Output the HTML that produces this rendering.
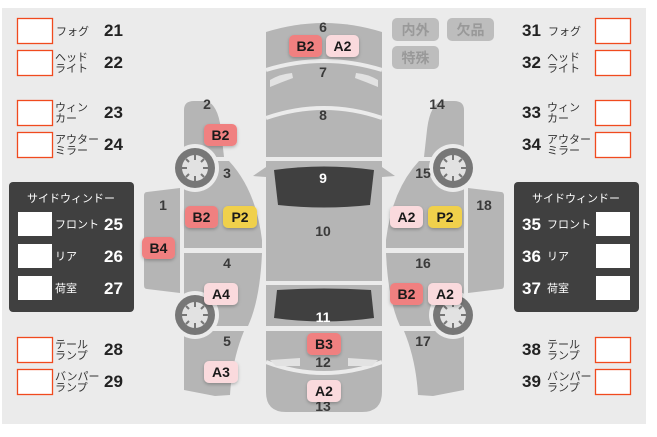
<!DOCTYPE html>
<html><head><meta charset="utf-8"><style>
body{margin:0;background:#fff;width:657px;height:432px;overflow:hidden;font-family:"Liberation Sans","Noto Sans CJK JP",sans-serif}
</style></head><body>
<svg width="657" height="432" viewBox="0 0 657 432" xmlns="http://www.w3.org/2000/svg" font-family="Liberation Sans, Noto Sans CJK JP, sans-serif">
<defs>
<filter id="sh" x="-20%" y="-20%" width="140%" height="160%"><feDropShadow dx="0" dy="1.5" stdDeviation="1.5" flood-color="#000" flood-opacity="0.25"/></filter>
<g id="wheel">
<circle r="24" fill="#ebebeb"/><circle r="20" fill="#777"/><circle r="13" fill="#e2e2e2"/>
<g stroke="#777" stroke-width="2"><line x1="0" y1="-13" x2="0" y2="-8"/><line x1="0" y1="13" x2="0" y2="8"/><line x1="-13" y1="0" x2="-8" y2="0"/><line x1="13" y1="0" x2="8" y2="0"/><line x1="-9" y1="-9" x2="-6" y2="-6"/><line x1="9" y1="9" x2="6" y2="6"/><line x1="9" y1="-9" x2="6" y2="-6"/><line x1="-9" y1="9" x2="-6" y2="6"/></g>
</g>
<g id="side" fill="#b5b5b5">
<path d="M184,110 Q184,101 194,101 L206,101 Q218,104 221,130 L224,157 L184,157 Z"/>
<path d="M184,161 L229,161 Q256,190 262,240 L262,248 L184,248 Z"/>
<path d="M184,253 L262,253 Q260,300 248,326 L184,326 Z"/>
<path d="M184,331 L244,331 Q232,360 230,395 L215,396 L184,390 Z"/>
<path d="M147,192 L180,188 L180,293 L147,289 Q144,289 144,285 L144,196 Q144,192 147,192 Z"/>
<use href="#wheel" x="195" y="168"/>
<use href="#wheel" x="195" y="315"/>
</g>
</defs>
<rect x="2" y="8" width="644" height="416" fill="#ebebeb"/>

<!-- top car -->
<path d="M266,32 Q324,14 382,32 L382,392 Q382,412 362,412 L286,412 Q266,412 266,392 Z" fill="#b5b5b5"/>
<g fill="none" stroke="#ebebeb" stroke-width="4">
<path d="M266,70 Q324,52 382,70"/><path d="M266,118 Q324,98 382,118"/><path d="M266,362 Q324,384 382,362"/>
</g>
<rect x="266" y="157" width="116" height="4" fill="#ebebeb"/>
<rect x="266" y="281" width="116" height="4" fill="#ebebeb"/>
<rect x="266" y="326" width="116" height="5" fill="#ebebeb"/>
<path d="M266,167 L253,176 L266,177 Z M382,167 L395,176 L382,177 Z" fill="#b5b5b5"/>
<path d="M274,170 Q324,163 374,170 L370,205 Q324,210 278,205 Z" fill="#404040"/>
<path d="M277,290 Q324,287 371,290 L374,318 Q324,325 274,318 Z" fill="#404040"/>
<path d="M270,84 L270,80 Q280,74 292,73 L293,78 Q282,82 270,87 Z M378,84 L378,80 Q368,74 356,73 L355,78 Q366,82 378,87 Z" fill="#e2e2e2"/>
<path d="M270,360 L300,358 L300,366 L276,366 Z M378,360 L348,358 L348,366 L372,366 Z" fill="#e2e2e2"/>

<use href="#side"/>
<use href="#side" transform="translate(648,0) scale(-1,1)"/>

<!-- numbers -->
<g font-size="14" fill="#3a3a3a" text-anchor="middle" font-weight="bold">
<text x="323" y="32">6</text><text x="323" y="77">7</text><text x="323" y="120">8</text>
<text x="323" y="183" fill="#fff">9</text><text x="323" y="236">10</text><text x="323" y="322" fill="#fff">11</text>
<text x="323" y="367">12</text><text x="323" y="411">13</text>
<text x="207" y="109">2</text><text x="227" y="178">3</text><text x="163" y="210">1</text><text x="227" y="268">4</text><text x="227" y="346">5</text>
<text x="437" y="109">14</text><text x="423" y="178">15</text><text x="484" y="210">18</text><text x="423" y="268">16</text><text x="423" y="346">17</text>
</g>

<!-- badges -->
<g font-size="14" font-weight="bold" text-anchor="middle" fill="#1a1a1a">
<g filter="url(#sh)">
<rect x="289" y="35" width="33" height="22" rx="5" fill="#f08080"/>
<rect x="326" y="35" width="33" height="22" rx="5" fill="#fadadd"/>
<rect x="204" y="124" width="33" height="22" rx="5" fill="#f08080"/>
<rect x="185" y="206" width="33" height="22" rx="5" fill="#f08080"/>
<rect x="223" y="206" width="34" height="22" rx="5" fill="#f0d04c"/>
<rect x="142" y="237" width="33" height="22" rx="5" fill="#f08080"/>
<rect x="204" y="283" width="34" height="22" rx="5" fill="#fadadd"/>
<rect x="204" y="361" width="34" height="22" rx="5" fill="#fadadd"/>
<rect x="307" y="333" width="34" height="22" rx="5" fill="#f08080"/>
<rect x="307" y="380" width="34" height="22" rx="5" fill="#fadadd"/>
<rect x="390" y="206" width="33" height="22" rx="5" fill="#fadadd"/>
<rect x="428" y="206" width="34" height="22" rx="5" fill="#f0d04c"/>
<rect x="390" y="283" width="33" height="22" rx="5" fill="#f08080"/>
<rect x="428" y="283" width="34" height="22" rx="5" fill="#fadadd"/>
</g>
<text x="305.5" y="51">B2</text><text x="342.5" y="51">A2</text>
<text x="220.5" y="140">B2</text>
<text x="201.5" y="222">B2</text><text x="240" y="222">P2</text>
<text x="158.5" y="253">B4</text>
<text x="221" y="299">A4</text><text x="221" y="377">A3</text>
<text x="324" y="349">B3</text><text x="324" y="396">A2</text>
<text x="406.5" y="222">A2</text><text x="445" y="222">P2</text>
<text x="406.5" y="299">B2</text><text x="445" y="299">A2</text>
</g>

<!-- buttons -->
<g fill="#bdbdbd"><rect x="392" y="18" width="47" height="23" rx="5"/><rect x="447" y="18" width="47" height="23" rx="5"/><rect x="392" y="46" width="47" height="23" rx="5"/></g>
<g font-size="14" fill="#999" text-anchor="middle" font-weight="bold"><text x="415.5" y="35">内外</text><text x="470.5" y="35">欠品</text><text x="415.5" y="63">特殊</text></g>

<!-- left list -->
<g fill="#fff" stroke="#f04a1e" stroke-width="1.3">
<rect x="17.5" y="18.5" width="35" height="25"/><rect x="17.5" y="50.5" width="35" height="25"/>
<rect x="17.5" y="100.5" width="35" height="25"/><rect x="17.5" y="132.5" width="35" height="25"/>
<rect x="17.5" y="337.5" width="35" height="25"/><rect x="17.5" y="369.5" width="35" height="25"/>
<rect x="595.5" y="18.5" width="35" height="25"/><rect x="595.5" y="50.5" width="35" height="25"/>
<rect x="595.5" y="100.5" width="35" height="25"/><rect x="595.5" y="132.5" width="35" height="25"/>
<rect x="595.5" y="337.5" width="35" height="25"/><rect x="595.5" y="369.5" width="35" height="25"/>
</g>
<rect x="9" y="182" width="125" height="130" rx="4" fill="#404040"/>
<rect x="514" y="182" width="125" height="130" rx="4" fill="#404040"/>
<g fill="#fff"><rect x="18" y="212" width="34" height="24"/><rect x="18" y="244" width="34" height="24"/><rect x="18" y="276" width="34" height="24"/>
<rect x="596" y="212" width="34" height="24"/><rect x="596" y="244" width="34" height="24"/><rect x="596" y="276" width="34" height="24"/></g>
<g font-size="11" fill="#fff" text-anchor="middle"><text x="71" y="202">サイドウィンドー</text><text x="576" y="202">サイドウィンドー</text></g>

<g font-size="11" fill="#333">
<text x="56" y="35">フォグ</text>
<text x="55" y="61">ヘッド</text><text x="55" y="72">ライト</text>
<text x="55" y="111">ウィン</text><text x="55" y="122">カー</text>
<text x="55" y="143">アウター</text><text x="55" y="154">ミラー</text>
<text x="55" y="348">テール</text><text x="55" y="359">ランプ</text>
<text x="55" y="380">バンパー</text><text x="55" y="391">ランプ</text>
<text x="548" y="35">フォグ</text>
<text x="547" y="61">ヘッド</text><text x="547" y="72">ライト</text>
<text x="547" y="111">ウィン</text><text x="547" y="122">カー</text>
<text x="547" y="143">アウター</text><text x="547" y="154">ミラー</text>
<text x="547" y="348">テール</text><text x="547" y="359">ランプ</text>
<text x="547" y="380">バンパー</text><text x="547" y="391">ランプ</text>
</g>
<g font-size="11" fill="#fff">
<text x="55" y="228">フロント</text><text x="55" y="260">リア</text><text x="55" y="292">荷室</text>
<text x="547" y="228">フロント</text><text x="547" y="260">リア</text><text x="547" y="292">荷室</text>
</g>
<g font-size="17" font-weight="bold" fill="#222">
<text x="104" y="36">21</text><text x="104" y="68">22</text><text x="104" y="118">23</text><text x="104" y="150">24</text>
<text x="104" y="355">28</text><text x="104" y="387">29</text>
<text x="522" y="36">31</text><text x="522" y="68">32</text><text x="522" y="118">33</text><text x="522" y="150">34</text>
<text x="522" y="355">38</text><text x="522" y="387">39</text>
</g>
<g font-size="17" font-weight="bold" fill="#fff">
<text x="104" y="230">25</text><text x="104" y="262">26</text><text x="104" y="294">27</text>
<text x="522" y="230">35</text><text x="522" y="262">36</text><text x="522" y="294">37</text>
</g>
</svg>
</body></html>
